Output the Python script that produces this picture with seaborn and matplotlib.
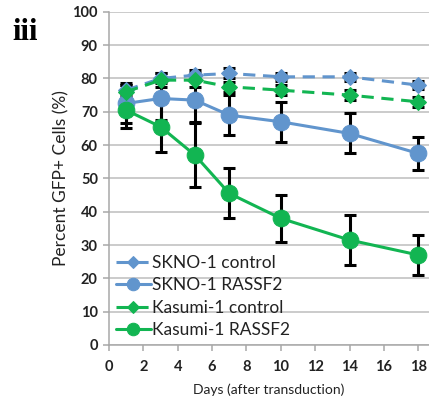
import numpy as np
import pandas as pd
import matplotlib
matplotlib.use("Agg")
import matplotlib.pyplot as plt
import seaborn as sns

days = [1, 3, 5, 7, 10, 14, 18]
skno_control = [76.5, 80, 81, 81.5, 80.5, 80.5, 78]
skno_control_err = [1.5, 1.5, 1.5, 1.5, 1.2, 1.2, 1.2]
skno_rassf2 = [72.5, 74, 73.5, 69, 67, 63.5, 57.5]
skno_rassf2_err = [6, 6.5, 6.5, 6, 6, 6, 5]
kasumi_control = [76, 79.5, 79.5, 77.5, 76.5, 75, 73]
kasumi_control_err = [2, 2, 2, 1.5, 1.5, 1.5, 1.5]
kasumi_rassf2 = [70.5, 65.5, 57, 45.5, 38, 31.5, 27]
kasumi_rassf2_err = [5.5, 7.5, 9.5, 7.5, 7, 7.5, 6]

series_names = ["SKNO-1 control", "SKNO-1 RASSF2", "Kasumi-1 control", "Kasumi-1 RASSF2"]

sns.set_style("white")
plt.rcParams['font.family'] = ['Lato', 'DejaVu Sans']

blue = "#6195CD"
green = "#12B552"

fig = plt.figure(figsize=(4.29, 3.96), dpi=100)
ax = fig.add_axes([0.254, 0.129, 0.745, 0.841])

series = [
    (series_names[0], skno_control, skno_control_err, blue, "D", (4, 2.5), 8),
    (series_names[1], skno_rassf2, skno_rassf2_err, blue, "o", "", 12),
    (series_names[2], kasumi_control, kasumi_control_err, green, "D", (4, 2.5), 8),
    (series_names[3], kasumi_rassf2, kasumi_rassf2_err, green, "o", "", 12),
]

for name, vals, err, col, mk, dash, ms in series:
    ax.errorbar(days, vals, yerr=err, fmt="none", ecolor="black",
                elinewidth=2.2, capsize=4, capthick=2.2, zorder=2)

for name, vals, err, col, mk, dash, ms in series:
    df = pd.DataFrame({"day": days, "val": vals})
    sns.lineplot(data=df, x="day", y="val", ax=ax, color=col, marker=mk,
                 markersize=ms, markeredgecolor=col, linewidth=2.2,
                 label=name, zorder=3)
    if dash:
        ax.lines[-1].set_dashes(dash)

ax.set_xlim(0, 18.6)
ax.set_ylim(0, 100)
ax.set_xticks(range(0, 19, 2))
ax.set_yticks(range(0, 101, 10))
ax.yaxis.grid(True, color="#BDBDBD", linewidth=1.1)
ax.set_axisbelow(True)
for s in ["top", "right"]:
    ax.spines[s].set_visible(False)
for s in ["left", "bottom"]:
    ax.spines[s].set_color("#A8A8A8")
    ax.spines[s].set_linewidth(1.1)
ax.tick_params(axis="both", which="both", length=4, color="#A8A8A8", width=1.1,
               labelsize=10.5, pad=4, direction="out")
ax.tick_params(axis="y", left=True)
ax.tick_params(axis="x", bottom=True, pad=7)
for lab in ax.get_xticklabels() + ax.get_yticklabels():
    lab.set_fontweight("bold")
    lab.set_color("#222222")

ax.set_xlabel("Days (after transduction)", fontsize=10, color="#222222", labelpad=7)
ax.set_ylabel("Percent GFP+ Cells (%)", fontsize=12.5, color="#222222", labelpad=2)

leg = ax.legend(loc="lower left", bbox_to_anchor=(0.0, 0.0), frameon=False,
                fontsize=12.5, handlelength=2.0, handletextpad=0.1,
                labelspacing=0.36, borderaxespad=0.0, markerscale=0.75)
for t in leg.get_texts():
    t.set_color("#222222")

fig.text(0.028, 0.9, "iii", fontsize=22, fontweight="bold",
         family=["Liberation Serif", "DejaVu Serif"], color="black")

fig.savefig("out.png", dpi=100)
